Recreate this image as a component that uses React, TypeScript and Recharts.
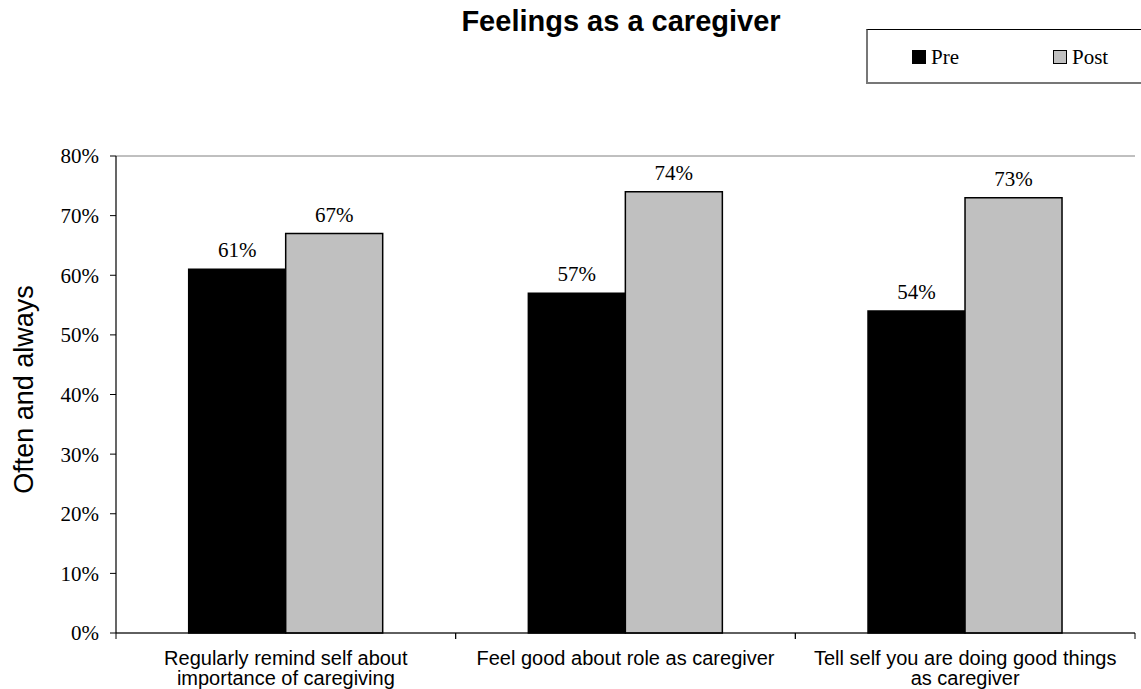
import React from 'react';
import { BarChart, Bar, XAxis, YAxis, CartesianGrid, LabelList, Legend } from 'recharts';

const categories = [
  'Regularly remind self about importance of caregiving',
  'Feel good about role as caregiver',
  'Tell self you are doing good things as caregiver',
];
const categoryLines: string[][] = [
  ['Regularly remind self about', 'importance of caregiving'],
  ['Feel good about role as caregiver'],
  ['Tell self you are doing good things', 'as caregiver'],
];
const preValues = [0.61, 0.57, 0.54];
const postValues = [0.67, 0.74, 0.73];
const seriesNames = ['Pre', 'Post'];
const seriesColors = ['#000000', '#c0c0c0'];
const yTicks = [0, 0.1, 0.2, 0.3, 0.4, 0.5, 0.6, 0.7, 0.8];
const title = 'Feelings as a caregiver';
const yLabel = 'Often and always';

const data = categories.map((c, i) => ({
  name: c,
  Pre: preValues[i],
  Post: postValues[i],
}));

const SERIF = "'Times New Roman', 'Liberation Serif', serif";
const SANS = "Arial, 'Liberation Sans', sans-serif";

const pct = (v: number) => `${Math.round(v * 100)}%`;

const CategoryTick = (props: any) => {
  const { x, y, index, payload } = props;
  const lines = categoryLines[index] || [];
  const half = payload && typeof payload.offset === 'number' ? payload.offset : 0;
  return (
    <g>
      {half > 0 && (
        <>
          <line x1={x - half} x2={x - half} y1={y} y2={y + 6} stroke="#000" strokeWidth={1} />
          <line x1={x + half} x2={x + half} y1={y} y2={y + 6} stroke="#000" strokeWidth={1} />
        </>
      )}
      <text x={x} y={y} textAnchor="middle" fontFamily={SANS} fontSize={20} fill="#000">
        {lines.map((l, i) => (
          <tspan key={i} x={x} dy={i === 0 ? 32 : 20}>
            {l}
          </tspan>
        ))}
      </text>
    </g>
  );
};

const YLabelContent = (props: any) => {
  const vb = props.viewBox || {};
  const cx = vb.x + 33;
  const cy = vb.y + vb.height / 2 - 5;
  return (
    <text
      x={cx}
      y={cy}
      transform={`rotate(-90, ${cx}, ${cy})`}
      textAnchor="middle"
      fontFamily={SANS}
      fontSize={27}
      fill="#000"
    >
      {yLabel}
    </text>
  );
};

const LegendBox = (props: any) => {
  const payload = [...(props.payload || [])].sort(
    (a: any, b: any) => seriesNames.indexOf(a.value) - seriesNames.indexOf(b.value)
  );
  return (
    <div style={{ position: 'relative', width: 275, height: 55, overflow: 'hidden' }}>
      <div
        style={{
          position: 'absolute',
          left: 0,
          top: 0,
          width: 400,
          height: 52,
          borderTop: '1px solid #000',
          borderLeft: '2px solid #777',
          borderBottom: '2px solid #777',
          background: '#fff',
        }}
      />
      {payload.map((entry: any, i: number) => (
        <div
          key={i}
          style={{
            position: 'absolute',
            left: 46 + i * 141,
            top: 18,
            height: 20,
            display: 'flex',
            alignItems: 'center',
            fontFamily: SERIF,
            fontSize: 21,
            lineHeight: '20px',
            color: '#000',
            whiteSpace: 'nowrap',
          }}
        >
          <span
            style={{
              display: 'inline-block',
              width: 12,
              height: 12,
              background: entry.color,
              border: '1.5px solid #000',
              marginRight: 5,
            }}
          />
          <span>{entry.value}</span>
        </div>
      ))}
    </div>
  );
};

export default function App() {
  return (
    <div
      style={{
        position: 'absolute',
        left: 0,
        top: 0,
        width: 1141,
        height: 689,
        overflow: 'hidden',
        background: '#fff',
      }}
    >
      <div
        style={{
          position: 'absolute',
          left: 321,
          top: 7,
          width: 600,
          textAlign: 'center',
          fontFamily: SANS,
          fontWeight: 'bold',
          fontSize: 29,
          lineHeight: 1,
          color: '#000',
        }}
      >
        {title}
      </div>
      <BarChart
        width={1141}
        height={689}
        data={data}
        margin={{ top: 156, right: 6, bottom: 0, left: 0 }}
        barCategoryGap="21.4%"
        barGap={0}
      >
        <CartesianGrid vertical={false} stroke="#808080" strokeWidth={1} />
        <XAxis
          xAxisId="c"
          dataKey="name"
          height={56}
          tickSize={0}
          tickMargin={0}
          tickLine={false}
          axisLine={{ stroke: '#000', strokeWidth: 1.2 }}
          tick={<CategoryTick />}
          interval={0}
        />
        <YAxis
          yAxisId="l"
          width={116}
          domain={[0, 0.8]}
          ticks={yTicks}
          tickFormatter={pct}
          tickSize={6}
          tickMargin={11}
          axisLine={{ stroke: '#000', strokeWidth: 1.2 }}
          tickLine={{ stroke: '#000' }}
          tick={{ fontFamily: SERIF, fontSize: 21, fill: '#000' }}
          label={{ content: <YLabelContent /> }}
        />
        <YAxis
          yAxisId="r"
          orientation="right"
          width={0}
          domain={[0, 0.8]}
          tick={false}
          tickLine={false}
          axisLine={{ stroke: '#808080', strokeWidth: 1.5 }}
        />
        <Legend
          layout="horizontal"
          verticalAlign="middle"
          align="center"
          wrapperStyle={{ left: 866, top: 29, width: 275, height: 55 }}
          content={<LegendBox />}
        />
        <Bar
          xAxisId="c"
          yAxisId="l"
          dataKey="Pre"
          name={seriesNames[0]}
          fill={seriesColors[0]}
          stroke="#000"
          strokeWidth={1.5}
          isAnimationActive={false}
        >
          <LabelList
            dataKey="Pre"
            position="top"
            offset={12}
            formatter={pct}
            style={{ fontFamily: SERIF, fontSize: 21, fill: '#000' }}
          />
        </Bar>
        <Bar
          xAxisId="c"
          yAxisId="l"
          dataKey="Post"
          name={seriesNames[1]}
          fill={seriesColors[1]}
          stroke="#000"
          strokeWidth={1.5}
          isAnimationActive={false}
        >
          <LabelList
            dataKey="Post"
            position="top"
            offset={12}
            formatter={pct}
            style={{ fontFamily: SERIF, fontSize: 21, fill: '#000' }}
          />
        </Bar>
      </BarChart>
    </div>
  );
}
